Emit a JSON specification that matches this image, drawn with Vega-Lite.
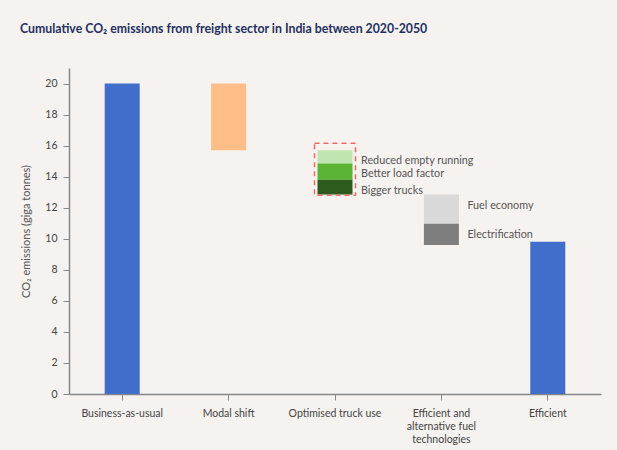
{
  "$schema": "https://vega.github.io/schema/vega-lite/v6.json",
  "description": "Cumulative CO2 emissions from freight sector in India, 2020-2050",
  "autosize": {"type": "none"},
  "padding": {"left": 69, "top": 68, "right": 16, "bottom": 56},
  "width": 532,
  "height": 326,
  "background": "#F5F2EF",
  "config": {
    "font": "Lato",
    "view": {"stroke": null},
    "axis": {"grid": false}
  },
  "title": {
    "text": "Cumulative CO₂ emissions from freight sector in India between 2020-2050",
    "anchor": "start",
    "frame": "group",
    "dx": -49,
    "offset": 33,
    "fontSize": 12.3,
    "fontWeight": "bold",
    "color": "#24305F"
  },
  "datasets": {
    "bars": [
      {"category": "Business-as-usual", "segment": "Business-as-usual", "start": 0, "end": 20},
      {"category": "Modal shift", "segment": "Modal shift", "start": 15.7, "end": 20},
      {"category": "Optimised truck use", "segment": "Reduced empty running", "start": 14.85, "end": 15.7},
      {"category": "Optimised truck use", "segment": "Better load factor", "start": 13.8, "end": 14.85},
      {"category": "Optimised truck use", "segment": "Bigger trucks", "start": 12.85, "end": 13.8},
      {"category": "Efficient and alternative fuel technologies", "segment": "Fuel economy", "start": 10.97, "end": 12.85},
      {"category": "Efficient and alternative fuel technologies", "segment": "Electrification", "start": 9.6, "end": 10.97},
      {"category": "Efficient", "segment": "Efficient", "start": 0, "end": 9.8}
    ],
    "box": [
      {"category": "Optimised truck use", "start": 12.8, "end": 16.15}
    ]
  },
  "encoding": {
    "x": {
      "field": "category",
      "type": "nominal",
      "sort": ["Business-as-usual", "Modal shift", "Optimised truck use", "Efficient and alternative fuel technologies", "Efficient"],
      "title": null,
      "scale": {"paddingInner": 0, "paddingOuter": 0},
      "axis": {
        "labelAngle": 0,
        "labelFontSize": 10.5,
        "labelColor": "#444444",
        "labelPadding": 8,
        "labelLineHeight": 13,
        "labelBaseline": "top",
        "labelExpr": "datum.value == 'Efficient and alternative fuel technologies' ? ['Efficient and', 'alternative fuel', 'technologies'] : datum.label",
        "tickSize": 6,
        "tickColor": "#888888",
        "domainColor": "#888888",
        "domainWidth": 1.5
      }
    },
    "y": {
      "field": "start",
      "type": "quantitative",
      "scale": {"domain": [0, 21], "nice": false},
      "title": "CO₂ emissions (giga tonnes)",
      "axis": {
        "values": [0, 2, 4, 6, 8, 10, 12, 14, 16, 18, 20],
        "labelFontSize": 10.5,
        "labelColor": "#444444",
        "labelPadding": 6,
        "tickSize": 6,
        "tickColor": "#888888",
        "domainColor": "#888888",
        "domainWidth": 1.5,
        "titleFontSize": 11,
        "titleFontWeight": "normal",
        "titleColor": "#555555",
        "titlePadding": 13
      }
    },
    "y2": {"field": "end"}
  },
  "layer": [
    {
      "data": {"name": "bars"},
      "mark": {"type": "bar", "size": 35},
      "encoding": {
        "color": {
          "field": "segment",
          "type": "nominal",
          "legend": null,
          "scale": {
            "domain": ["Business-as-usual", "Modal shift", "Reduced empty running", "Better load factor", "Bigger trucks", "Fuel economy", "Electrification", "Efficient"],
            "range": ["#416DCB", "#FFBE87", "#C0E5B0", "#5BB436", "#2D5B1E", "#DAD9D9", "#7E7E7E", "#416DCB"]
          }
        }
      }
    },
    {
      "data": {"name": "box"},
      "mark": {"type": "bar", "size": 41, "filled": false, "stroke": "#F26B61", "strokeWidth": 1.5, "strokeDash": [5, 4]}
    },
    {
      "data": {"name": "bars"},
      "transform": [
        {"filter": {"field": "category", "oneOf": ["Optimised truck use", "Efficient and alternative fuel technologies"]}}
      ],
      "mark": {"type": "text", "align": "left", "baseline": "middle", "dx": 26, "dy": 11, "fontSize": 10.8, "color": "#555555"},
      "encoding": {
        "y": {"field": "end", "type": "quantitative"},
        "y2": null,
        "text": {"field": "segment"}
      }
    }
  ]
}
